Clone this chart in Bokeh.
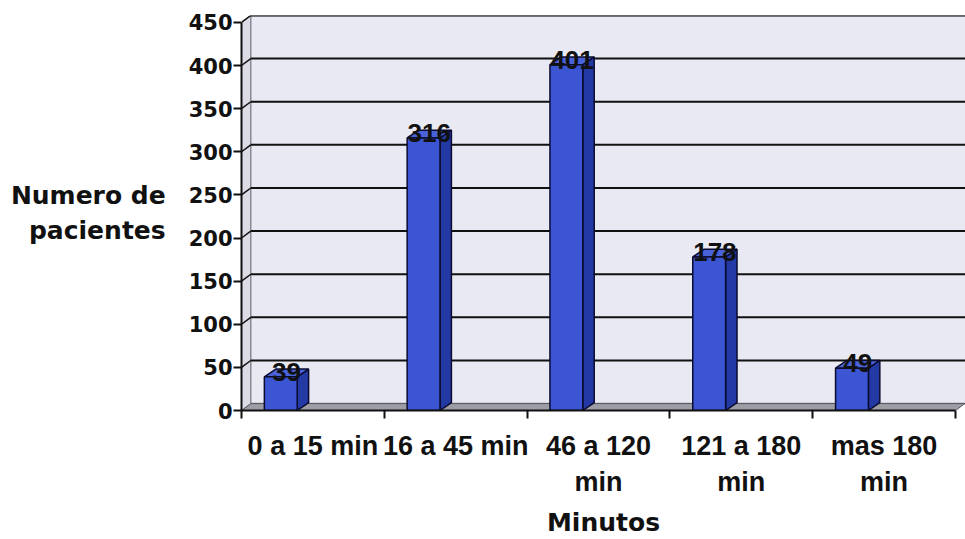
from bokeh.plotting import figure
from bokeh.models import FixedTicker, Range1d, ColumnDataSource
from bokeh.embed import file_html
from bokeh.resources import INLINE

# ---- data ----
categories = ["0 a 15 min", "16 a 45 min", "46 a 120\nmin", "121 a 180\nmin", "mas 180\nmin"]
values = [39, 316, 401, 178, 49]
y_ticks = [0, 50, 100, 150, 200, 250, 300, 350, 400, 450]
y_title = "Numero de\npacientes"
x_title = "Minutos"

FONT = "DejaVu Sans"
XFONT = "Liberation Sans"
n = len(categories)
ymax = y_ticks[-1]

# 3D geometry (in data units)
wdx, wdy = 0.065, 8.0      # wall depth offset
bdx, bdy = 0.08, 9.0       # bar depth offset
bw = 0.23                  # bar front width
boff = -0.225              # bar offset from category centre

p = figure(width=965, height=539, output_backend="svg", toolbar_location=None,
           x_range=Range1d(-0.5, n - 0.5 + 0.07), y_range=Range1d(0, ymax + wdy),
           min_border_left=241, min_border_right=0, min_border_top=15, min_border_bottom=128)
p.outline_line_color = None
p.xgrid.visible = False
p.ygrid.visible = False
p.background_fill_color = "white"

x0 = -0.5
x1 = n - 0.5
xe = n - 0.5 + 0.07

# side wall (left)
p.patch([x0, x0 + wdx, x0 + wdx, x0], [0, wdy, ymax + wdy, ymax],
        fill_color="#dcdce6", line_color="#8a8a95", line_width=1)
# back wall
p.quad(left=[x0 + wdx], right=[xe + 0.05], bottom=[wdy], top=[ymax + wdy],
       fill_color="#e9e9f3", line_color="#8a8a95", line_width=1.5)
# floor
p.patch([x0, x1, x1 + wdx, x0 + wdx], [0, 0, wdy, wdy],
        fill_color="#9d9da6", line_color="#555560", line_width=1)

# gridlines on wall with connectors to the axis
gl = [v for v in y_ticks if v > 0]
p.segment(x0=[x0 + wdx] * len(gl), y0=[v + wdy for v in gl], x1=[xe + 0.05] * len(gl),
          y1=[v + wdy for v in gl], line_color="#111111", line_width=2)
p.segment(x0=[x0] * len(gl), y0=gl, x1=[x0 + wdx] * len(gl), y1=[v + wdy for v in gl],
          line_color="#111111", line_width=1.5)

# bars
xl = [i + boff - bw / 2 for i in range(n)]
xr = [i + boff + bw / 2 for i in range(n)]
side_xs = [[r, r + bdx, r + bdx, r] for r in xr]
side_ys = [[0, bdy, v + bdy, v] for v in values]
top_xs = [[l, r, r + bdx, l + bdx] for l, r in zip(xl, xr)]
top_ys = [[v, v, v + bdy, v + bdy] for v in values]
p.patches(side_xs, side_ys, fill_color="#2339a3", line_color="#0b0b30", line_width=1.5)
p.patches(top_xs, top_ys, fill_color="#4a63da", line_color="#0b0b30", line_width=1.5)
p.vbar(x=[i + boff for i in range(n)], width=bw, bottom=0, top=values,
       fill_color="#3b55d3", line_color="#0b0b30", line_width=1.5)

# data labels
src = ColumnDataSource(dict(x=[i + boff + bdx / 2 for i in range(n)],
                            y=[v + bdy / 2 for v in values],
                            t=[str(v) for v in values]))
p.text(x="x", y="y", text="t", source=src, text_align="center", text_baseline="middle",
       text_font_size="26px", text_font_style="bold", text_color="#111111",
       y_offset=-1)

# x axis
xa = p.xaxis[0]
xa.ticker = FixedTicker(ticks=list(range(n)), minor_ticks=[i - 0.5 for i in range(n + 1)])
xa.major_label_overrides = {i: c for i, c in enumerate(categories)}
xa.bounds = (x0, x1)
xa.axis_line_color = "#111111"
xa.axis_line_width = 2
xa.major_tick_line_color = None
xa.major_tick_out = 8
xa.minor_tick_line_color = "#111111"
xa.minor_tick_line_width = 2
xa.minor_tick_out = 8
xa.minor_tick_in = 0
xa.major_label_standoff = 12
xa.major_label_text_font = XFONT
xa.major_label_text_font_style = "bold"
xa.major_label_text_font_size = "27px"
xa.major_label_text_color = "#111111"
xa.axis_label = x_title
xa.axis_label_text_font = FONT
xa.axis_label_text_font_style = "bold"
xa.axis_label_text_font_size = "25px"
xa.axis_label_text_color = "#111111"
xa.axis_label_standoff = 8

# y axis
ya = p.yaxis[0]
ya.ticker = FixedTicker(ticks=y_ticks)
ya.bounds = (0, ymax)
ya.axis_line_color = "#111111"
ya.axis_line_width = 2
ya.major_tick_line_color = "#111111"
ya.major_tick_line_width = 2
ya.major_tick_out = 8
ya.major_tick_in = 0
ya.minor_tick_line_color = None
ya.major_label_standoff = 1
ya.major_label_text_font = FONT
ya.major_label_text_font_style = "bold"
ya.major_label_text_font_size = "21px"
ya.major_label_text_color = "#111111"
ya.axis_label = y_title
ya.axis_label_orientation = "horizontal"
ya.axis_label_text_align = "center"
ya.axis_label_text_font = FONT
ya.axis_label_text_font_style = "bold"
ya.axis_label_text_font_size = "25px"
ya.axis_label_text_color = "#111111"
ya.axis_label_standoff = 20

open("out.html", "w").write(file_html(p, INLINE))
